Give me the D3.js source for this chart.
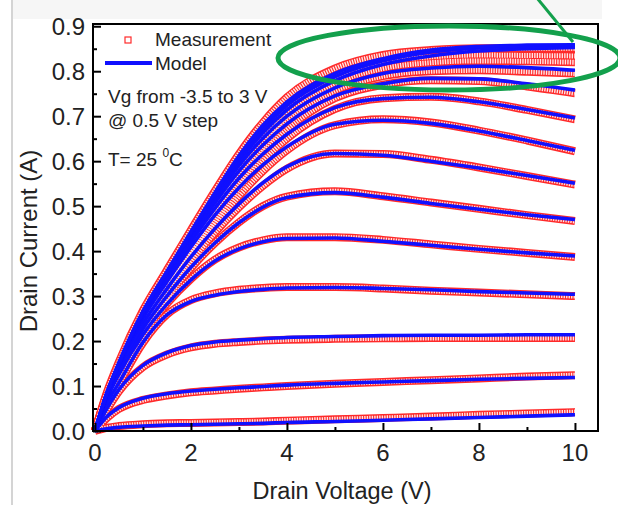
<!DOCTYPE html>
<html>
<head>
<meta charset="utf-8">
<script src="https://cdn.jsdelivr.net/npm/d3@7"></script>
<style>
  html, body { margin: 0; padding: 0; background: #fff; }
  svg { display: block; font-family: "Liberation Sans", Arial, sans-serif; }
</style>
</head>
<body>
<div id="chart"></div>
<script>
// drain voltage sample points (V)
const vd = [0, 0.25, 0.5, 1, 1.5, 2, 2.5, 3, 3.5, 4, 5, 6, 7, 8, 9, 10];

// gate voltages, -3.5 .. 3 V in 0.5 V steps
const vg = [-3.5, -3, -2.5, -2, -1.5, -1, -0.5, 0, 0.5, 1, 1.5, 2, 2.5, 3];

// model drain current (A), one row per gate voltage
const modelId = [
  [0, 0.005, 0.008, 0.011, 0.013, 0.014, 0.015, 0.016, 0.017, 0.019, 0.021, 0.024, 0.027, 0.030, 0.033, 0.036],
  [0, 0.032, 0.052, 0.073, 0.083, 0.089, 0.093, 0.096, 0.099, 0.102, 0.106, 0.109, 0.112, 0.115, 0.117, 0.119],
  [0, 0.050, 0.092, 0.146, 0.174, 0.190, 0.198, 0.202, 0.205, 0.208, 0.210, 0.212, 0.213, 0.213, 0.214, 0.214],
  [0, 0.062, 0.107, 0.197, 0.258, 0.288, 0.302, 0.310, 0.315, 0.318, 0.319, 0.317, 0.314, 0.310, 0.307, 0.304],
  [0, 0.072, 0.126, 0.214, 0.282, 0.336, 0.378, 0.405, 0.421, 0.428, 0.429, 0.422, 0.413, 0.404, 0.396, 0.389],
  [0, 0.075, 0.132, 0.227, 0.300, 0.364, 0.418, 0.463, 0.498, 0.519, 0.530, 0.520, 0.506, 0.493, 0.481, 0.470],
  [0, 0.078, 0.138, 0.238, 0.316, 0.387, 0.450, 0.505, 0.552, 0.588, 0.617, 0.613, 0.600, 0.585, 0.568, 0.551],
  [0, 0.081, 0.144, 0.250, 0.332, 0.409, 0.480, 0.541, 0.592, 0.632, 0.682, 0.691, 0.684, 0.667, 0.646, 0.624],
  [0, 0.082, 0.146, 0.255, 0.339, 0.420, 0.495, 0.562, 0.616, 0.660, 0.719, 0.739, 0.742, 0.732, 0.715, 0.696],
  [0, 0.083, 0.148, 0.259, 0.344, 0.428, 0.507, 0.578, 0.636, 0.683, 0.745, 0.772, 0.784, 0.783, 0.772, 0.758],
  [0, 0.084, 0.149, 0.261, 0.348, 0.433, 0.515, 0.590, 0.651, 0.700, 0.763, 0.795, 0.807, 0.811, 0.808, 0.802],
  [0, 0.084, 0.150, 0.263, 0.351, 0.437, 0.521, 0.599, 0.663, 0.714, 0.779, 0.815, 0.834, 0.845, 0.850, 0.853],
  [0, 0.085, 0.151, 0.265, 0.353, 0.440, 0.526, 0.606, 0.672, 0.724, 0.788, 0.823, 0.843, 0.852, 0.855, 0.856],
  [0, 0.085, 0.152, 0.266, 0.355, 0.443, 0.530, 0.612, 0.680, 0.732, 0.795, 0.828, 0.847, 0.855, 0.858, 0.859]
];

// measured drain current (A)
const measId = [
  [0, 0.007, 0.011, 0.015, 0.017, 0.018, 0.019, 0.020, 0.021, 0.023, 0.026, 0.029, 0.032, 0.036, 0.039, 0.042],
  [0, 0.029, 0.049, 0.069, 0.079, 0.086, 0.090, 0.094, 0.097, 0.100, 0.105, 0.109, 0.113, 0.117, 0.121, 0.124],
  [0, 0.047, 0.088, 0.142, 0.170, 0.186, 0.194, 0.198, 0.201, 0.203, 0.205, 0.206, 0.207, 0.207, 0.207, 0.207],
  [0, 0.060, 0.105, 0.196, 0.259, 0.291, 0.306, 0.314, 0.318, 0.320, 0.320, 0.317, 0.312, 0.308, 0.304, 0.300],
  [0, 0.071, 0.125, 0.214, 0.283, 0.338, 0.381, 0.408, 0.424, 0.431, 0.431, 0.425, 0.415, 0.405, 0.396, 0.387],
  [0, 0.073, 0.130, 0.224, 0.297, 0.362, 0.418, 0.464, 0.500, 0.521, 0.533, 0.522, 0.508, 0.494, 0.480, 0.467],
  [0, 0.075, 0.133, 0.230, 0.305, 0.376, 0.441, 0.497, 0.545, 0.583, 0.617, 0.616, 0.603, 0.586, 0.567, 0.548],
  [0, 0.076, 0.135, 0.234, 0.311, 0.386, 0.457, 0.522, 0.578, 0.624, 0.680, 0.693, 0.686, 0.668, 0.646, 0.622],
  [0, 0.077, 0.137, 0.238, 0.317, 0.394, 0.469, 0.540, 0.600, 0.650, 0.716, 0.740, 0.743, 0.733, 0.714, 0.693],
  [0, 0.078, 0.139, 0.242, 0.322, 0.401, 0.479, 0.553, 0.617, 0.670, 0.740, 0.770, 0.780, 0.778, 0.766, 0.751],
  [0, 0.079, 0.141, 0.246, 0.328, 0.409, 0.489, 0.566, 0.632, 0.687, 0.756, 0.789, 0.800, 0.802, 0.799, 0.795],
  [0, 0.081, 0.144, 0.251, 0.335, 0.418, 0.500, 0.578, 0.645, 0.701, 0.772, 0.806, 0.819, 0.823, 0.822, 0.820],
  [0, 0.083, 0.148, 0.258, 0.344, 0.429, 0.512, 0.592, 0.660, 0.716, 0.786, 0.820, 0.832, 0.836, 0.835, 0.834],
  [0, 0.086, 0.154, 0.268, 0.358, 0.447, 0.534, 0.616, 0.686, 0.742, 0.806, 0.836, 0.847, 0.851, 0.851, 0.851]
];

const xTicks = [0, 2, 4, 6, 8, 10];
const yTicks = [0, 0.1, 0.2, 0.3, 0.4, 0.5, 0.6, 0.7, 0.8, 0.9];

const W = 618, H = 505;
const box = { left: 93, right: 598, top: 24, bottom: 431 };
const red = '#ff2a2a', blue = '#1010ff', green = '#13a04c';

const x = d3.scaleLinear().domain([-0.04, 10.48]).range([box.left, box.right]);
const y = d3.scaleLinear().domain([0, 0.905]).range([box.bottom, box.top]);

const svg = d3.select('#chart').append('svg')
  .attr('width', W).attr('height', H)
  .attr('viewBox', [0, 0, W, H].join(' '));

// faint scan background bits
svg.append('rect').attr('x', 12).attr('y', 0).attr('width', 590).attr('height', 19).attr('fill', '#f6f6f6');
svg.append('line').attr('x1', 12).attr('x2', 12).attr('y1', 0).attr('y2', H)
  .attr('stroke', '#d4d4d4').attr('stroke-width', 2);

const line = d3.line()
  .x(d => x(d[0]))
  .y(d => y(d[1]))
  .curve(d3.curveMonotoneX);

const plot = svg.append('g');

// measurement: packed open squares -> red band with pale gaps
const measPts = measId.map(row => row.map((v, i) => [vd[i], v]));
plot.append('g').selectAll('path')
  .data(measPts).join('path')
  .attr('d', line)
  .attr('fill', 'none')
  .attr('stroke', red)
  .attr('stroke-width', 8);

plot.append('g').selectAll('path')
  .data(measPts).join('path')
  .attr('d', line)
  .attr('fill', 'none')
  .attr('stroke', '#ffe6e6')
  .attr('stroke-width', 5)
  .attr('stroke-dasharray', '1.4 1.1');

// model lines
const modelPts = modelId.map(row => row.map((v, i) => [vd[i], v]));
plot.append('g').selectAll('path')
  .data(modelPts).join('path')
  .attr('d', line)
  .attr('fill', 'none')
  .attr('stroke', blue)
  .attr('stroke-width', 3.6);

// frame
svg.append('rect')
  .attr('x', box.left).attr('y', box.top)
  .attr('width', box.right - box.left).attr('height', box.bottom - box.top)
  .attr('fill', 'none').attr('stroke', '#000').attr('stroke-width', 2);

// axes, ticks pointing inwards
const xAxis = g => g
  .attr('transform', `translate(0,${box.bottom})`)
  .call(d3.axisTop(x).tickValues(xTicks).tickSize(8).tickFormat(''))
  .call(g => g.select('.domain').remove())
  .call(g => g.selectAll('line').attr('stroke-width', 2));

const xMinor = g => g
  .attr('transform', `translate(0,${box.bottom})`)
  .call(d3.axisTop(x).tickValues(d3.range(1, 11, 2)).tickSize(4).tickFormat(''))
  .call(g => g.select('.domain').remove())
  .call(g => g.selectAll('line').attr('stroke-width', 2));

const yAxis = g => g
  .attr('transform', `translate(${box.left},0)`)
  .call(d3.axisRight(y).tickValues(yTicks).tickSize(8).tickFormat(''))
  .call(g => g.select('.domain').remove())
  .call(g => g.selectAll('line').attr('stroke-width', 2));

const yMinor = g => g
  .attr('transform', `translate(${box.left},0)`)
  .call(d3.axisRight(y).tickValues(d3.range(0.05, 0.9, 0.1)).tickSize(4).tickFormat(''))
  .call(g => g.select('.domain').remove())
  .call(g => g.selectAll('line').attr('stroke-width', 2));

svg.append('g').call(xAxis);
svg.append('g').call(xMinor);
svg.append('g').call(yAxis);
svg.append('g').call(yMinor);

// tick labels
svg.append('g').selectAll('text')
  .data(xTicks).join('text')
  .attr('x', d => x(d))
  .attr('y', 461)
  .attr('text-anchor', 'middle')
  .attr('font-size', 24)
  .attr('fill', '#222')
  .text(d => d);

svg.append('g').selectAll('text')
  .data(yTicks).join('text')
  .attr('x', 85)
  .attr('y', d => y(d) + 8.5)
  .attr('text-anchor', 'end')
  .attr('font-size', 24)
  .attr('fill', '#222')
  .text(d => d3.format('.1f')(d));

// axis titles
svg.append('text')
  .attr('x', 342).attr('y', 499)
  .attr('text-anchor', 'middle')
  .attr('font-size', 23.5)
  .attr('fill', '#222')
  .text('Drain Voltage (V)');

svg.append('text')
  .attr('transform', 'translate(37,241) rotate(-90)')
  .attr('text-anchor', 'middle')
  .attr('font-size', 24)
  .attr('fill', '#222')
  .text('Drain Current (A)');

// legend
const leg = svg.append('g').attr('font-size', 19).attr('fill', '#222');
leg.append('rect')
  .attr('x', 125).attr('y', 37).attr('width', 6).attr('height', 6)
  .attr('fill', 'none').attr('stroke', red).attr('stroke-width', 1.2);
leg.append('text').attr('x', 155).attr('y', 46).text('Measurement');
leg.append('line')
  .attr('x1', 105).attr('x2', 152).attr('y1', 63).attr('y2', 63)
  .attr('stroke', blue).attr('stroke-width', 4);
leg.append('text').attr('x', 155).attr('y', 70).text('Model');

leg.append('text').attr('x', 108).attr('y', 103).text('Vg from -3.5 to 3 V');
leg.append('text').attr('x', 108).attr('y', 127).text('@ 0.5 V step');
const t = leg.append('text').attr('x', 108).attr('y', 166);
t.append('tspan').text('T= 25 ');
t.append('tspan').attr('font-size', 12).attr('dy', -9).text('0');
t.append('tspan').attr('dy', 9).text('C');

// green highlight
svg.append('ellipse')
  .attr('cx', 449).attr('cy', 58).attr('rx', 171).attr('ry', 32)
  .attr('fill', 'none').attr('stroke', green).attr('stroke-width', 5);
svg.append('line')
  .attr('x1', 537).attr('y1', -2).attr('x2', 573).attr('y2', 42)
  .attr('stroke', green).attr('stroke-width', 3);
</script>
</body>
</html>
